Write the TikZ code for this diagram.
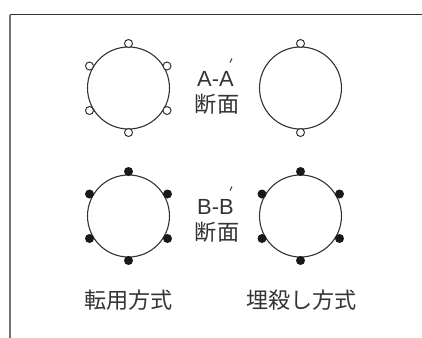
\documentclass[tikz,border=0pt]{standalone}
\usepackage{fontspec}
\setmainfont{Liberation Sans}
\newfontfamily\cjk{Noto Sans CJK JP}
\definecolor{ink}{gray}{0.2}
\tikzset{
  x=1bp,y=-1bp,
  frametop/.style={draw=ink,line width=1bp},
  frameleft/.style={draw=black!55,line width=1.5bp},
  bigc/.style={circle,draw=ink,line width=1.1bp,minimum size=82bp,inner sep=0pt,fill=white},
  openpin/.style={circle,draw=ink,line width=1bp,fill=white,minimum size=8bp,inner sep=0pt},
  fullpin/.style={circle,draw=none,fill=black!90,minimum size=9bp,inner sep=0pt},
  lab/.style={inner sep=0pt,text=ink,font=\fontsize{22.2}{24}\selectfont\cjk},
  latin/.style={inner sep=0pt,text=ink,font=\fontsize{22}{24}\selectfont},
  primemark/.style={draw=ink,line width=1.1bp}
}
\begin{document}
\begin{tikzpicture}
\useasboundingbox (0,0) rectangle (422,338);
\fill[white] (0,0) rectangle (422,338);
\coordinate (fa) at (10,338);
\coordinate (fb) at (10,14.5);
\coordinate (fc) at (422,14.5);
\draw[frameleft] (fa) -- (fb);
\draw[frametop] (fb) -- (fc);
% upper row
\node[bigc] (c1) at (128.5,88) {};
\node[bigc] (c2) at (300.5,88) {};
\node[openpin] (p1) at (128.5,43.5) {};
\node[openpin] (p2) at (167,66) {};
\node[openpin] (p3) at (167,110.5) {};
\node[openpin] (p4) at (128.5,132.5) {};
\node[openpin] (p5) at (89.5,110.5) {};
\node[openpin] (p6) at (89.5,66) {};
\node[openpin] (p7) at (300.5,43.5) {};
\node[openpin] (p8) at (300.5,132.5) {};
% lower row
\node[bigc] (c3) at (128.5,216) {};
\node[bigc] (c4) at (300.5,216) {};
\node[fullpin] (q1) at (128.5,171.5) {};
\node[fullpin] (q2) at (167.5,194) {};
\node[fullpin] (q3) at (167.5,238.5) {};
\node[fullpin] (q4) at (128.5,260.5) {};
\node[fullpin] (q5) at (89.5,238.5) {};
\node[fullpin] (q6) at (89.5,194) {};
\node[fullpin] (q7) at (300.5,171.5) {};
\node[fullpin] (q8) at (339.5,194) {};
\node[fullpin] (q9) at (339.5,238.5) {};
\node[fullpin] (q10) at (300.5,260.5) {};
\node[fullpin] (q11) at (262,238.5) {};
\node[fullpin] (q12) at (262,194) {};
% labels
\node[latin] (t1) at (215.5,78.5) {A-A};
\node[lab] (t2) at (217,104.5) {断面};
\node[latin] (t3) at (215.5,206.5) {B-B};
\node[lab] (t4) at (217,232.5) {断面};
\node[lab] (t5) at (128.5,300.5) {転用方式};
\node[lab] (t6) at (301.5,300.5) {埋殺し方式};
\draw[primemark] ([xshift=14.5bp,yshift=16bp]t1.center) -- ([xshift=16.5bp,yshift=20bp]t1.center);
\draw[primemark] ([xshift=14.5bp,yshift=16bp]t3.center) -- ([xshift=16.5bp,yshift=20bp]t3.center);
\end{tikzpicture}
\end{document}
